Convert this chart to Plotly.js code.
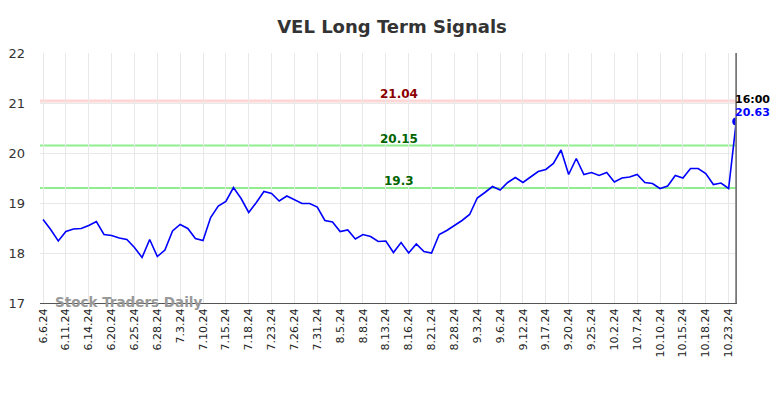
<!DOCTYPE html>
<html>
<head>
<meta charset="utf-8">
<script src="https://cdn.plot.ly/plotly-3.0.1.min.js"></script>
<style>html,body{margin:0;padding:0;background:#fff;}#chart{width:784px;height:398px;}</style>
</head>
<body>
<div id="chart"></div>
<script>
// Trading-day labels (one per data point)
const dates = [
"6.6.24","6.7.24","6.10.24","6.11.24","6.12.24","6.13.24","6.14.24","6.17.24","6.18.24","6.20.24",
"6.21.24","6.24.24","6.25.24","6.26.24","6.27.24","6.28.24","7.1.24","7.2.24","7.3.24","7.8.24",
"7.9.24","7.10.24","7.11.24","7.12.24","7.15.24","7.16.24","7.17.24","7.18.24","7.19.24","7.22.24",
"7.23.24","7.24.24","7.25.24","7.26.24","7.29.24","7.30.24","7.31.24","8.1.24","8.2.24","8.5.24",
"8.6.24","8.7.24","8.8.24","8.9.24","8.12.24","8.13.24","8.14.24","8.15.24","8.16.24","8.19.24",
"8.20.24","8.21.24","8.23.24","8.26.24","8.28.24","8.29.24","8.30.24","9.3.24","9.4.24","9.5.24",
"9.6.24","9.10.24","9.11.24","9.12.24","9.13.24","9.16.24","9.17.24","9.18.24","9.19.24","9.20.24",
"9.23.24","9.24.24","9.25.24","9.27.24","10.1.24","10.2.24","10.3.24","10.4.24","10.7.24","10.8.24",
"10.9.24","10.10.24","10.11.24","10.14.24","10.15.24","10.16.24","10.17.24","10.18.24","10.21.24","10.22.24",
"10.23.24","10.24.24"
];
// Closing prices
const prices = [
18.67,18.47,18.24,18.43,18.48,18.49,18.55,18.63,18.37,18.35,
18.30,18.27,18.11,17.91,18.27,17.93,18.06,18.44,18.57,18.49,
18.29,18.25,18.71,18.94,19.03,19.31,19.09,18.81,19.01,19.23,
19.19,19.04,19.14,19.06,18.99,18.99,18.92,18.65,18.62,18.43,
18.46,18.28,18.37,18.33,18.23,18.24,18.01,18.21,18.00,18.18,
18.03,18.00,18.37,18.45,18.55,18.65,18.77,19.10,19.21,19.33,
19.26,19.41,19.51,19.41,19.52,19.63,19.67,19.79,20.06,19.57,
19.89,19.57,19.61,19.55,19.61,19.42,19.50,19.52,19.57,19.41,
19.39,19.29,19.34,19.55,19.50,19.69,19.69,19.59,19.37,19.40,
19.29,20.63
];
const tickLabels = ["6.6.24","6.11.24","6.14.24","6.20.24","6.25.24","6.28.24","7.3.24","7.10.24","7.15.24","7.18.24",
"7.23.24","7.26.24","7.31.24","8.5.24","8.8.24","8.13.24","8.16.24","8.21.24","8.28.24","9.3.24","9.6.24",
"9.12.24","9.17.24","9.20.24","9.25.24","10.2.24","10.7.24","10.10.24","10.15.24","10.18.24","10.23.24"];
const signalLevels = [21.04, 20.15, 19.3];
const signalLabels = ["21.04", "20.15", "19.3"];
const lastTimeLabel = "16:00";

const idx = dates.map((d, i) => i);
const tickVals = tickLabels.map(t => dates.indexOf(t));
const last = prices.length - 1;

const lineColors = ["#ffd6d6", "#90ee90", "#90ee90"];
const textColors = ["#8b0000", "#006400", "#006400"];
const midIdx = 46.7;

const shapes = signalLevels.map((v, k) => ({
  type: "line", xref: "paper", x0: 0, x1: 1, yref: "y", y0: v, y1: v,
  line: {color: lineColors[k], width: k === 0 ? 3 : 2}, layer: "below"
}));
shapes.push({type: "line", xref: "x", x0: last, x1: last, yref: "paper", y0: 0, y1: 1,
  line: {color: "#777777", width: 2}});

const annotations = signalLevels.map((v, k) => ({
  x: midIdx, y: v, xref: "x", yref: "y", text: "<b>" + signalLabels[k] + "</b>",
  showarrow: false, yanchor: "bottom", yshift: -2,
  font: {family: "DejaVu Sans, sans-serif", size: 12, color: textColors[k]}
}));
annotations.push({x: last, y: prices[last], xref: "x", yref: "y", text: "<b>" + lastTimeLabel + "</b>",
  showarrow: false, xanchor: "left", yanchor: "bottom", yshift: 14, xshift: -3,
  font: {family: "DejaVu Sans, sans-serif", size: 11, color: "#000"}});
annotations.push({x: last, y: prices[last], xref: "x", yref: "y", text: "<b>" + prices[last].toFixed(2) + "</b>",
  showarrow: false, xanchor: "left", yanchor: "bottom", yshift: 1, xshift: -3,
  font: {family: "DejaVu Sans, sans-serif", size: 11, color: "#0000ff"}});
annotations.push({x: 0.018, y: 0, xref: "paper", yref: "paper", text: "<b>Stock Traders Daily</b>",
  showarrow: false, xanchor: "left", yanchor: "bottom", yshift: -9,
  font: {family: "DejaVu Sans, sans-serif", size: 13.5, color: "#999999"}});

const traces = [
  {x: idx, y: prices, type: "scatter", mode: "lines", line: {color: "#0000ff", width: 1.6}, hoverinfo: "skip"},
  {x: [last], y: [prices[last]], type: "scatter", mode: "markers", marker: {color: "#0000ff", size: 8}, hoverinfo: "skip"}
];

const layout = {
  width: 784, height: 398,
  margin: {l: 40, r: 47, t: 53, b: 95},
  paper_bgcolor: "#fff", plot_bgcolor: "#fff",
  showlegend: false,
  title: {text: "<b>VEL Long Term Signals</b>", x: 0.5, xanchor: "center", y: 0.95, yanchor: "top",
    font: {family: "DejaVu Sans, sans-serif", size: 18, color: "#333333"}},
  xaxis: {range: [-0.4, last + 0.1], tickmode: "array", tickvals: tickVals, ticktext: tickLabels,
    tickangle: -90, showgrid: true, gridcolor: "#e8e8e8", gridwidth: 1, zeroline: false,
    showline: true, linecolor: "#555555", linewidth: 1, ticks: "",
    tickfont: {family: "DejaVu Sans, sans-serif", size: 11, color: "#222"}},
  yaxis: {range: [17, 22], tickvals: [17, 18, 19, 20, 21, 22], showgrid: true, gridcolor: "#e8e8e8",
    zeroline: false, showline: false, ticks: "", ticklabelstandoff: 14,
    tickfont: {family: "DejaVu Sans, sans-serif", size: 13, color: "#333"}},
  shapes: shapes,
  annotations: annotations
};
Plotly.newPlot("chart", traces, layout, {staticPlot: true, displayModeBar: false});
</script>
</body>
</html>
